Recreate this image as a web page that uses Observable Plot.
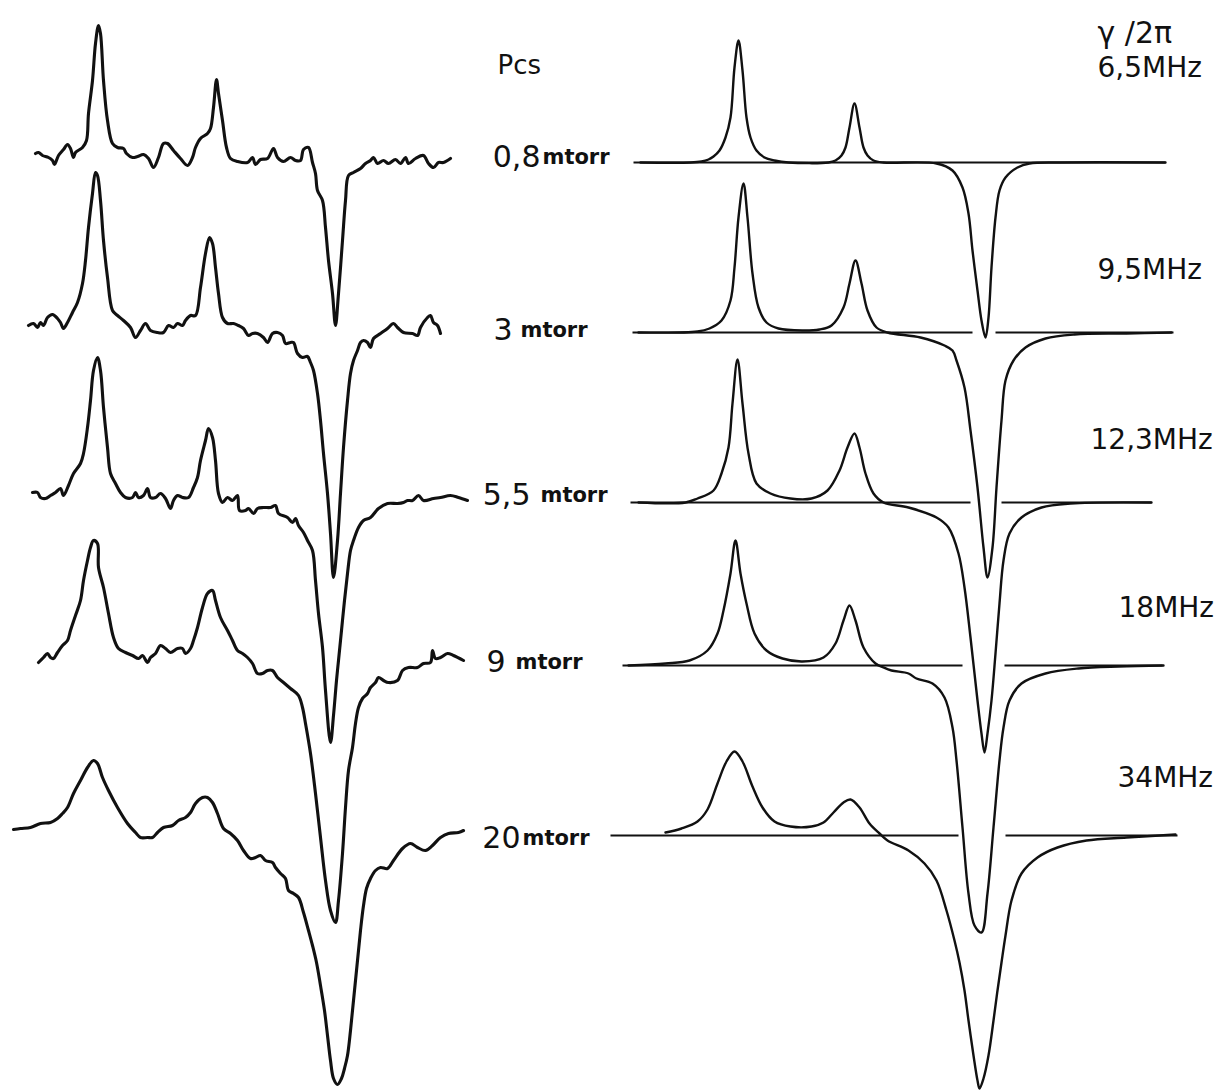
<!DOCTYPE html>
<html>
<head>
<meta charset="utf-8">
<script src="https://cdn.jsdelivr.net/npm/d3@7"></script>
<script src="https://cdn.jsdelivr.net/npm/@observablehq/plot@0.6"></script>
<style>
  html, body { margin: 0; padding: 0; background: #fff; }
  #chart svg { display: block; }
</style>
</head>
<body>
<div id="chart"></div>
<script>
// ---------- DATA ----------
// Each trace: [detuning (arb. units, first peak = 0), signal (arb. units, own baseline = 0)] pairs.
// Measured spectra (Cs pressure)
const pressures = ["0,8", "3", "5,5", "9", "20"];
const pressureUnit = "mtorr";
const exp08 = [[-62,4],[-59,5],[-55,2],[-49,0],[-45,-3],[-43,-7],[-39,2],[-34,8],[-30,13],[-27,9],[-24,0],[-22,5],[-15,10],[-11,17],[-9,44],[-5,77],[-2,114],[1,132],[3,124],[6,77],[10,37],[15,14],[20,10],[26,9],[29,4],[35,0],[40,1],[46,3],[51,-1],[56,-10],[61,0],[66,14],[70,14],[76,7],[83,-1],[90,-8],[95,0],[98,10],[103,19],[110,24],[113,29],[116,50],[119,78],[121,64],[125,37],[129,10],[133,-1],[140,-4],[150,-5],[155,0],[158,-7],[163,-2],[170,-1],[176,9],[180,0],[186,-4],[193,0],[198,-3],[203,-3],[206,8],[211,10],[215,-5],[218,-16],[220,-33],[225,-43],[228,-70],[231,-103],[235,-136],[238,-168],[241,-136],[245,-83],[248,-43],[251,-18],[256,-15],[263,-11],[268,-6],[273,-3],[276,0],[280,-6],[286,-3],[291,-6],[298,-2],[303,-6],[308,0],[311,-6],[318,-1],[326,2],[331,-6],[336,-10],[341,-5],[346,-5],[353,-1]];
const exp3 = [[-69,0],[-64,2],[-60,-2],[-57,3],[-54,0],[-50,8],[-45,11],[-40,7],[-37,3],[-34,-3],[-30,3],[-25,13],[-20,23],[-15,42],[-12,65],[-9,98],[-5,132],[-2,153],[0,150],[3,125],[6,85],[10,48],[15,15],[20,10],[26,5],[33,-2],[38,-12],[43,-5],[48,2],[53,-5],[60,-7],[66,-7],[71,0],[76,-2],[80,2],[85,0],[88,5],[93,10],[98,10],[103,38],[108,72],[112,88],[115,82],[118,58],[121,32],[125,8],[130,2],[136,2],[141,0],[146,-3],[151,-10],[155,-8],[160,-8],[166,-12],[170,-17],[175,-8],[180,-7],[185,-10],[188,-18],[193,-17],[196,-17],[200,-28],[205,-32],[210,-31],[213,-37],[216,-45],[220,-68],[223,-95],[226,-128],[230,-168],[233,-208],[236,-252],[240,-215],[243,-168],[246,-122],[250,-75],[253,-48],[256,-35],[260,-25],[263,-17],[266,-15],[270,-17],[273,-22],[276,-13],[283,-8],[290,-3],[296,2],[300,-2],[306,-7],[315,-8],[320,-10],[323,-2],[330,8],[333,10],[336,3],[340,0],[343,-8]];
const exp55 = [[-65,1],[-60,1],[-57,-4],[-52,-5],[-47,-2],[-42,1],[-37,5],[-34,-2],[-29,8],[-24,20],[-17,30],[-14,40],[-10,66],[-7,93],[-4,123],[0,136],[3,123],[6,86],[10,46],[13,20],[18,10],[23,1],[28,-4],[35,-4],[38,1],[41,-4],[46,-2],[50,5],[53,-4],[58,-4],[63,0],[68,-5],[73,-15],[76,-7],[80,-2],[85,-4],[91,-4],[96,6],[100,16],[103,33],[108,53],[111,65],[115,56],[118,33],[121,0],[125,-9],[130,-4],[135,-7],[140,-2],[142,-17],[148,-17],[151,-15],[156,-20],[160,-15],[166,-14],[173,-14],[178,-12],[181,-20],[190,-24],[195,-29],[198,-25],[201,-32],[206,-39],[210,-47],[215,-57],[218,-87],[221,-120],[225,-154],[228,-197],[233,-249],[236,-222],[239,-187],[241,-167],[244,-137],[247,-107],[250,-80],[253,-57],[256,-47],[261,-34],[266,-27],[273,-24],[281,-15],[290,-10],[300,-10],[306,-9],[310,-7],[315,-7],[321,-2],[326,-7],[336,-5],[343,-4],[353,-2],[361,-4],[370,-7]];
const exp9 = [[-59,-4],[-54,1],[-50,5],[-47,1],[-44,0],[-40,6],[-35,13],[-30,18],[-27,28],[-22,43],[-17,58],[-14,78],[-10,98],[-7,111],[-4,118],[0,115],[1,91],[6,71],[11,45],[16,21],[21,10],[28,6],[35,3],[41,0],[45,3],[50,-4],[53,1],[58,5],[63,13],[68,10],[73,6],[80,10],[85,10],[88,5],[93,10],[96,18],[100,31],[105,51],[110,65],[115,68],[118,58],[123,41],[130,28],[135,18],[140,8],[145,5],[150,1],[155,-5],[160,-15],[165,-15],[170,-12],[175,-12],[180,-19],[186,-24],[193,-30],[201,-37],[205,-49],[208,-65],[213,-95],[218,-135],[223,-179],[228,-222],[233,-252],[238,-264],[241,-242],[245,-195],[248,-149],[251,-112],[255,-89],[258,-65],[261,-49],[265,-40],[270,-35],[273,-29],[278,-24],[281,-19],[286,-22],[291,-24],[300,-22],[305,-12],[311,-9],[320,-9],[326,-5],[333,-4],[335,8],[338,0],[343,1],[350,5],[356,3],[366,-2]];
const exp20 = [[-84,0],[-77,1],[-67,2],[-57,6],[-47,7],[-40,11],[-35,16],[-30,22],[-24,36],[-17,49],[-10,62],[-4,69],[0,66],[5,52],[11,39],[20,22],[30,6],[38,-3],[43,-8],[50,-8],[55,-8],[60,-3],[66,2],[75,4],[81,9],[88,12],[93,17],[98,26],[105,32],[110,32],[115,27],[120,16],[126,1],[133,-4],[140,-11],[146,-21],[153,-29],[158,-28],[163,-26],[168,-31],[175,-33],[178,-38],[183,-44],[188,-49],[191,-61],[196,-64],[201,-68],[206,-83],[211,-101],[215,-116],[219,-133],[223,-156],[227,-181],[230,-206],[233,-231],[236,-249],[240,-255],[244,-249],[247,-239],[250,-226],[253,-201],[256,-171],[260,-131],[263,-101],[266,-76],[269,-59],[273,-49],[278,-41],[283,-38],[290,-39],[296,-31],[305,-19],[313,-14],[320,-18],[328,-21],[335,-16],[343,-8],[351,-4],[361,-3],[366,-1]];

// Calculated profiles (homogeneous width γ/2π)
const widths = ["6,5", "9,5", "12,3", "18", "34"];
const widthUnit = "MHz";
const th65 = [[-98,0],[-48,0],[-37,1],[-30,3],[-25,6],[-19,12],[-13,25],[-8,45],[-4,95],[0,122],[4,92],[8,45],[12,25],[18,12],[26,5],[36,2],[50,0],[90,0],[97,2],[103,7],[107,15],[111,35],[116,59],[121,35],[125,15],[129,7],[135,2],[145,0],[198,-1],[214,-8],[224,-25],[230,-51],[234,-88],[239,-128],[243,-158],[247,-175],[250,-155],[253,-105],[257,-55],[261,-28],[267,-15],[279,-5],[291,-1],[322,0],[427,0]];
const th95 = [[-100,0],[-41,1],[-29,4],[-17,12],[-8,32],[-4,65],[0,115],[5,149],[9,115],[14,59],[20,25],[28,10],[40,4],[64,2],[81,3],[93,7],[105,25],[111,49],[117,72],[123,49],[129,22],[138,5],[149,0],[182,-5],[206,-13],[214,-18],[218,-28],[226,-55],[232,-98],[239,-155],[245,-215],[249,-245],[254,-215],[258,-155],[263,-88],[267,-48],[275,-28],[287,-15],[307,-6],[336,-2],[388,-1],[433,0]];
const th123 = [[-100,0],[-53,0],[-41,4],[-25,12],[-17,29],[-10,55],[-6,99],[-1,143],[4,99],[10,49],[18,19],[32,9],[52,4],[73,4],[89,12],[101,32],[109,55],[116,69],[121,55],[127,29],[135,9],[145,0],[170,-5],[198,-15],[210,-25],[220,-51],[226,-85],[232,-135],[239,-198],[243,-231],[246,-250],[249,-231],[253,-198],[257,-151],[261,-101],[265,-58],[271,-31],[283,-15],[303,-5],[332,-1],[413,0]];
const th18 = [[-110,0],[-73,2],[-49,5],[-31,15],[-21,32],[-15,55],[-8,92],[-3,125],[2,92],[8,62],[16,32],[28,15],[44,7],[64,4],[85,8],[97,22],[105,45],[111,60],[117,45],[125,18],[137,2],[145,-2],[153,-5],[170,-8],[178,-13],[194,-18],[206,-32],[214,-62],[218,-95],[224,-162],[230,-228],[236,-260],[243,-267],[249,-228],[255,-162],[261,-95],[265,-62],[271,-35],[283,-18],[307,-8],[340,-3],[380,-1],[425,0]];
const th34 = [[-73,3],[-57,7],[-41,14],[-31,26],[-21,52],[-12,74],[-4,84],[4,74],[14,49],[24,28],[36,14],[52,9],[73,9],[85,13],[95,23],[105,33],[112,36],[121,28],[131,12],[141,2],[149,-5],[170,-15],[186,-28],[198,-45],[208,-75],[216,-105],[221,-127],[226,-155],[230,-185],[235,-220],[239,-245],[241,-253],[245,-243],[250,-220],[255,-185],[259,-155],[263,-127],[267,-100],[273,-65],[283,-38],[299,-22],[319,-12],[348,-5],[388,-2],[437,1]];

// Baseline reference lines of the calculated profiles (detuning extent, broken at the dip)
const thBaselines = [
  [[-105, 427]],
  [[-106, 234], [257, 435]],
  [[-108, 232], [263, 413]],
  [[-116, 224], [266, 424]],
  [[-128, 220], [267, 439]]
];

// Vertical stacking offset of each trace (signal units)
const expOffset = [0, -168, -336, -501, -672];
const thOffset = [-5, -175, -345, -508, -678];

// ---------- LAYOUT (not data) ----------
const W = 1232, H = 1090;
const THEORY_SHIFT = 641; // horizontal offset of the calculated column
const expTraces = [exp08, exp3, exp55, exp9, exp20];
const thTraces = [th65, th95, th123, th18, th34];

const expRows = expTraces.flatMap((tr, i) => tr.map(([x, s]) => ({id: "e" + i, x, y: expOffset[i] + s})));
const thRows = thTraces.flatMap((tr, i) => tr.map(([x, s]) => ({id: "t" + i, x: x + THEORY_SHIFT, y: thOffset[i] + s})));
const baseRows = thBaselines.flatMap((segs, i) => segs.map(([a, b]) => ({x1: a + THEORY_SHIFT, x2: b + THEORY_SHIFT, y: thOffset[i]})));

// label anchors
const pNumEnd = [443, 415, 433, 408, 423];
const pUnitStart = [445, 423, 443, 418, 425];
const pLabelDy = [0, -5, -2, -4, -9];
const pNumRows = pressures.map((t, i) => ({t, x: pNumEnd[i], y: expOffset[i] + pLabelDy[i]}));
const pUnitRows = pressures.map((t, i) => ({t: pressureUnit, x: pUnitStart[i], y: expOffset[i] + pLabelDy[i]}));
const wStart = [359, 359, 352, 380, 379];
const wLift = [94, 62, 62, 57, 57];
const wRows = widths.map((t, i) => ({t: t + widthUnit, x: wStart[i] + THEORY_SHIFT, y: thOffset[i] + wLift[i]}));

const font = "DejaVu Sans, Verdana, sans-serif";

const chart = Plot.plot({
  width: W,
  height: H,
  marginTop: 0, marginRight: 0, marginBottom: 0, marginLeft: 0,
  x: {domain: [-97, W - 97], axis: null},
  y: {domain: [157 - H, 157], axis: null},
  style: {background: "#fff", fontFamily: font},
  marks: [
    Plot.link(baseRows, {x1: "x1", x2: "x2", y1: "y", y2: "y", stroke: "#111", strokeWidth: 2.2}),
    Plot.line(thRows, {x: "x", y: "y", z: "id", curve: "catmull-rom", stroke: "#111", strokeWidth: 2.4}),
    Plot.line(expRows, {x: "x", y: "y", z: "id", curve: "catmull-rom", stroke: "#111", strokeWidth: 3.1, strokeLinejoin: "round"}),
    Plot.text(pNumRows, {x: "x", y: "y", text: "t", textAnchor: "end", fontSize: 30, fill: "#111", lineAnchor: "middle"}),
    Plot.text(pUnitRows, {x: "x", y: "y", text: "t", textAnchor: "start", fontSize: 21, fontWeight: "bold", fill: "#111", lineAnchor: "middle"}),
    Plot.text(wRows, {x: "x", y: "y", text: "t", textAnchor: "start", fontSize: 28, fill: "#111", lineAnchor: "middle"}),
    Plot.text([{t: "Pcs"}], {x: () => 400, y: () => 92, text: "t", textAnchor: "start", fontSize: 26, fill: "#111", lineAnchor: "middle"}),
    Plot.text([{t: "γ /2π"}], {x: () => 359 + THEORY_SHIFT, y: () => 124, text: "t", textAnchor: "start", fontSize: 30, fill: "#111", lineAnchor: "middle"})
  ]
});
document.getElementById("chart").appendChild(chart);
</script>
</body>
</html>
